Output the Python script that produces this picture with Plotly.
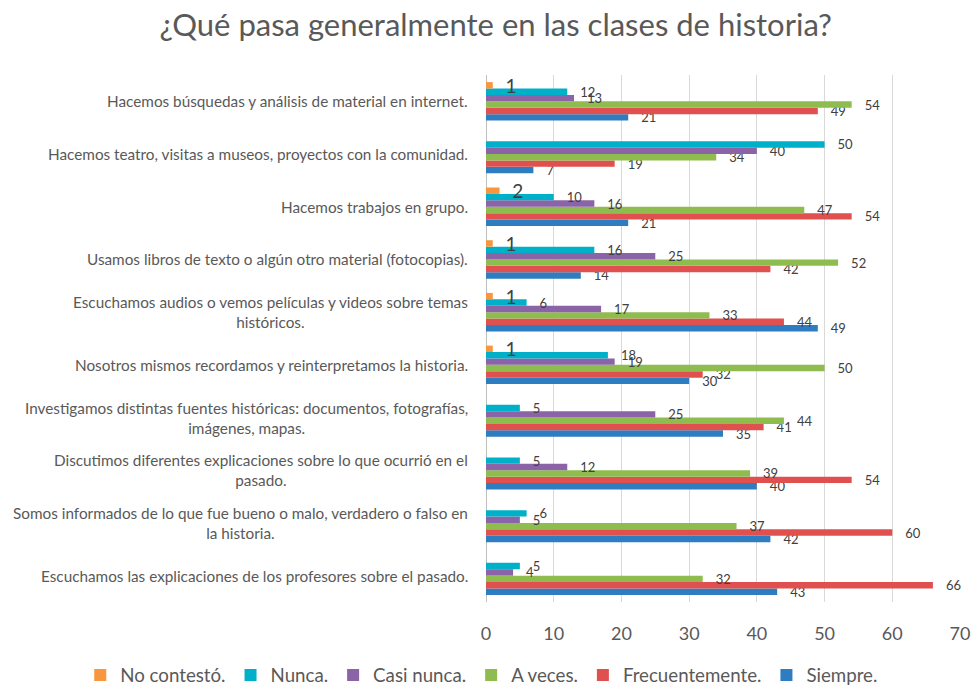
import plotly.graph_objects as go

title = "¿Qué pasa generalmente en las clases de historia?"

# categories listed top-to-bottom as in the chart
categories = [
    "Hacemos búsquedas y análisis de material en internet.",
    "Hacemos teatro, visitas a museos, proyectos con la comunidad.",
    "Hacemos trabajos en grupo.",
    "Usamos libros de texto o algún otro material (fotocopias).",
    "Escuchamos audios o vemos películas y videos sobre temas<br>históricos.",
    "Nosotros mismos recordamos y reinterpretamos la historia.",
    "Investigamos distintas fuentes históricas: documentos, fotografías,<br>imágenes, mapas.",
    "Discutimos diferentes explicaciones sobre lo que ocurrió en el<br>pasado.",
    "Somos informados de lo que fue bueno o malo, verdadero o falso en<br>la historia.",
    "Escuchamos las explicaciones de los profesores sobre el pasado.",
]

siempre        = [21, 7, 21, 14, 49, 30, 35, 40, 42, 43]
frecuentemente = [49, 19, 54, 42, 44, 32, 41, 54, 60, 66]
a_veces        = [54, 34, 47, 52, 33, 50, 44, 39, 37, 32]
casi_nunca     = [13, 40, 16, 25, 17, 19, 25, 12, 5, 4]
nunca          = [12, 50, 10, 16, 6, 18, 5, 5, 6, 5]
no_contesto    = [1, 0, 2, 1, 1, 1, 0, 0, 0, 0]

series_names = ["Siempre.", "Frecuentemente.", "A veces.", "Casi nunca.", "Nunca.", "No contestó."]
series_values = [siempre, frecuentemente, a_veces, casi_nunca, nunca, no_contesto]
series_colors = ["#2E7DC0", "#E0504F", "#8FBC4F", "#8A64A6", "#00AFC8", "#F7963D"]

x_ticks = [0, 10, 20, 30, 40, 50, 60, 70]

FONT = "Lato, Liberation Sans"

fig = go.Figure()
for name, vals, col in zip(series_names, series_values, series_colors):
    is_nc = name == "No contestó."
    pad = "\u00a0\u00a0" if is_nc else "\u00a0\u00a0\u00a0"
    txt = [(pad + str(v)) if v != 0 else "" for v in vals]
    fig.add_trace(go.Bar(
        y=categories, x=vals, name=name, orientation="h",
        marker=dict(color=col, line=dict(width=0)),
        text=txt, textposition="outside", cliponaxis=False,
        constraintext="none",
        textfont=dict(size=19 if is_nc else 13, color="#404040", family=FONT),
        hoverinfo="x+name",
    ))

annotations = []
for c in categories:
    annotations.append(dict(
        xref="paper", x=0, xshift=-16, yref="y", y=c,
        text=c, showarrow=False, xanchor="right", yanchor="middle", align="center",
        font=dict(size=15.3, color="#595959", family=FONT),
    ))

fig.update_layout(
    width=972, height=685,
    paper_bgcolor="white", plot_bgcolor="white",
    barmode="group", bargap=0.27, bargroupgap=0,
    title=dict(text=title, x=0.51, xref="container", y=0.963, yanchor="middle",
               font=dict(size=31, color="#595959", family=FONT)),
    margin=dict(l=486, r=12, t=75, b=83, autoexpand=False),
    xaxis=dict(range=[0, 70], tickvals=x_ticks, showgrid=True, gridcolor="#d9d9d9", gridwidth=1,
               zeroline=True, zerolinecolor="#bfbfbf", zerolinewidth=1,
               tickfont=dict(size=18, color="#595959", family=FONT),
               ticklabelstandoff=19, showline=False),
    yaxis=dict(categoryorder="array", categoryarray=list(reversed(categories)),
               showticklabels=False, showgrid=False, zeroline=False),
    legend=dict(orientation="h", x=-0.856, xanchor="left", y=-0.103, yanchor="top",
                traceorder="reversed", itemwidth=30,
                font=dict(size=18.7, color="#595959", family=FONT)),
    annotations=annotations,
)

fig.write_html("out.html", config={"displayModeBar": False},
               post_script="document.body.style.margin='0';document.body.style.overflow='hidden';")
